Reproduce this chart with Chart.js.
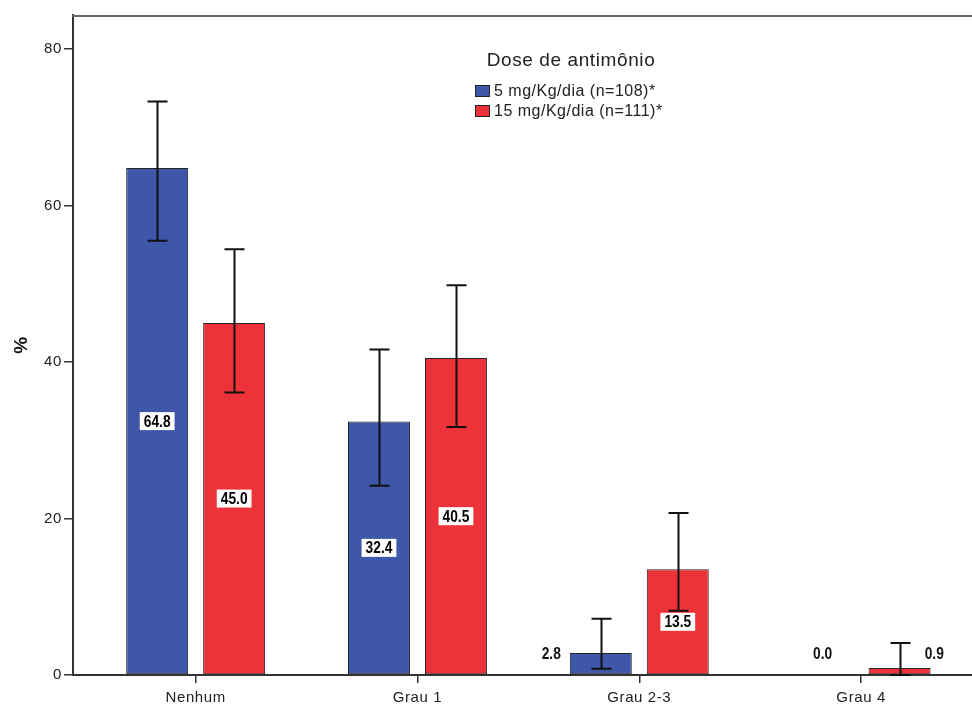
<!DOCTYPE html>
<html>
<head>
<meta charset="utf-8">
<script src="https://cdn.jsdelivr.net/npm/chart.js@4.4.1/dist/chart.umd.min.js"></script>
<style>
  html, body { margin: 0; padding: 0; background: #fff; overflow: hidden; }
  #wrap { width: 972px; height: 707px; position: relative; }
</style>
</head>
<body>
<div id="wrap"><canvas id="c" width="972" height="707"></canvas></div>
<script>
// Grau de toxicidade por dose de antimônio (% de pacientes, IC 95%)
const categories = ['Nenhum', 'Grau 1', 'Grau 2-3', 'Grau 4'];
const seriesNames = ['5 mg/Kg/dia (n=108)*', '15 mg/Kg/dia (n=111)*'];
const dose5 = [64.8, 32.4, 2.8, 0.0];
const dose15 = [45.0, 40.5, 13.5, 0.9];
const dose5Low = [55.5, 24.2, 0.8, null];
const dose5High = [73.3, 41.6, 7.2, null];
const dose15Low = [36.1, 31.7, 8.2, 0.0];
const dose15High = [54.4, 49.8, 20.7, 4.1];
const yTicks = [0, 20, 40, 60, 80];

const BLUE = '#3e57a8';
const RED = '#ee3239';
const TICK_FONT = { family: "'Liberation Sans', Arial, sans-serif", size: 15 };

const toPoints = vals => vals.map((v, i) => ({ x: i, y: v }));

// slightly open letter spacing for all chart text
const spacing = {
  id: 'spacing',
  beforeDraw(chart) { chart.ctx.letterSpacing = '0.6px'; }
};

// 95% confidence intervals drawn as capped whiskers over each bar
const errorBars = {
  id: 'errorBars',
  afterDatasetsDraw(chart) {
    const ctx = chart.ctx;
    const y = chart.scales.y;
    const ranges = [[dose5Low, dose5High], [dose15Low, dose15High]];
    ctx.save();
    ctx.strokeStyle = '#111';
    ctx.lineWidth = 2;
    chart.data.datasets.forEach((ds, di) => {
      const meta = chart.getDatasetMeta(di);
      const [lo, hi] = ranges[di];
      meta.data.forEach((bar, i) => {
        if (lo[i] == null || hi[i] == null) return;
        const x = Math.round(bar.x) + 0.5;
        const yl = y.getPixelForValue(lo[i]);
        const yh = y.getPixelForValue(hi[i]);
        ctx.beginPath();
        ctx.moveTo(x, yl); ctx.lineTo(x, yh);
        ctx.moveTo(x - 10, yh); ctx.lineTo(x + 10, yh);
        ctx.moveTo(x - 10, yl); ctx.lineTo(x + 10, yl);
        ctx.stroke();
      });
    });
    ctx.restore();
  }
};

// condensed bold text, drawn with a horizontal squeeze
function narrowText(ctx, txt, x, y) {
  ctx.save();
  ctx.translate(x, y);
  ctx.scale(0.86, 1);
  ctx.fillText(txt, 0, 0);
  ctx.restore();
}

// value labels: boxed in the bar middle, or beside short bars
const valueLabels = {
  id: 'valueLabels',
  afterDraw(chart) {
    const ctx = chart.ctx;
    ctx.save();
    ctx.letterSpacing = '0px';
    ctx.font = "bold 16px 'Liberation Sans', Arial, sans-serif";
    ctx.textAlign = 'center';
    ctx.textBaseline = 'middle';
    chart.data.datasets.forEach((ds, di) => {
      const meta = chart.getDatasetMeta(di);
      meta.data.forEach((bar, i) => {
        const v = ds.data[i].y;
        const txt = v.toFixed(1);
        const h = bar.base - bar.y;
        if (h > 30) {
          const cy = (bar.y + bar.base) / 2;
          const w = ctx.measureText(txt).width * 0.86 + 8;
          ctx.fillStyle = '#fff';
          ctx.fillRect(bar.x - w / 2, cy - 9, w, 18);
          ctx.fillStyle = '#000';
          narrowText(ctx, txt, bar.x, cy + 1);
        } else {
          let x = bar.x;
          if (v !== 0) x += di === 0 ? -bar.width * 0.8 : bar.width * 0.56;
          ctx.fillStyle = '#111';
          narrowText(ctx, txt, x, bar.base - 20);
        }
      });
    });
    ctx.restore();
  }
};

// frame line on top of the plot area and the legend block
const frameAndLegend = {
  id: 'frameAndLegend',
  afterDraw(chart) {
    const ctx = chart.ctx;
    const a = chart.chartArea;
    ctx.save();
    ctx.strokeStyle = '#666';
    ctx.lineWidth = 2;
    ctx.beginPath();
    ctx.moveTo(a.left - 1, a.top + 1);
    ctx.lineTo(a.right, a.top + 1);
    ctx.stroke();

    ctx.fillStyle = '#222';
    ctx.textBaseline = 'middle';
    ctx.textAlign = 'center';
    ctx.letterSpacing = '0.6px';
    ctx.font = "19px 'Liberation Sans', Arial, sans-serif";
    ctx.fillText('Dose de antimônio', 571, 61);
    ctx.textAlign = 'left';
    ctx.letterSpacing = '0.5px';
    ctx.font = "16px 'Liberation Sans', Arial, sans-serif";
    chart.data.datasets.forEach((ds, di) => {
      const top = 85 + di * 20;
      ctx.fillStyle = ds.backgroundColor;
      ctx.fillRect(475, top, 15, 12);
      ctx.strokeStyle = '#222';
      ctx.lineWidth = 1;
      ctx.strokeRect(475.5, top + 0.5, 14, 11);
      ctx.fillStyle = '#222';
      ctx.fillText(ds.label, 494, top + 6.5);
    });
    ctx.restore();
  }
};

new Chart(document.getElementById('c'), {
  type: 'bar',
  data: {
    datasets: [
      { label: seriesNames[0], data: toPoints(dose5), backgroundColor: BLUE },
      { label: seriesNames[1], data: toPoints(dose15), backgroundColor: RED }
    ]
  },
  options: {
    responsive: false,
    animation: false,
    events: [],
    layout: { padding: { top: 15, right: 0, left: 0, bottom: 0 } },
    datasets: {
      bar: {
        categoryPercentage: 0.694,
        barPercentage: 0.805,
        borderColor: '#222',
        borderWidth: 1,
        borderSkipped: false
      }
    },
    plugins: { legend: { display: false }, tooltip: { enabled: false } },
    scales: {
      x: {
        type: 'linear',
        min: -0.553,
        max: 3.5,
        offset: false,
        afterBuildTicks: s => { s.ticks = categories.map((c, i) => ({ value: i })); },
        afterFit: s => { s.height = 32; },
        ticks: {
          color: '#222',
          font: TICK_FONT,
          padding: 6,
          autoSkip: false,
          maxRotation: 0,
          callback: v => categories[v]
        },
        grid: { offset: false, drawOnChartArea: false, drawTicks: true, tickLength: 8, color: '#333', lineWidth: 1.5 },
        border: { color: '#333', width: 2 }
      },
      y: {
        min: 0,
        max: 84.35,
        afterBuildTicks: s => { s.ticks = yTicks.map(v => ({ value: v })); },
        afterFit: s => { s.width = 73; },
        ticks: { color: '#222', font: TICK_FONT, padding: 2 },
        grid: { drawOnChartArea: false, drawTicks: true, tickLength: 9, color: '#333', lineWidth: 1.5 },
        border: { color: '#333', width: 2 },
        title: {
          display: true,
          text: '%',
          color: '#111',
          font: { family: "'Liberation Sans', Arial, sans-serif", size: 19, weight: 'bold' },
          padding: { top: 10, bottom: 0 }
        }
      }
    }
  },
  plugins: [spacing, errorBars, valueLabels, frameAndLegend]
});
</script>
</body>
</html>
